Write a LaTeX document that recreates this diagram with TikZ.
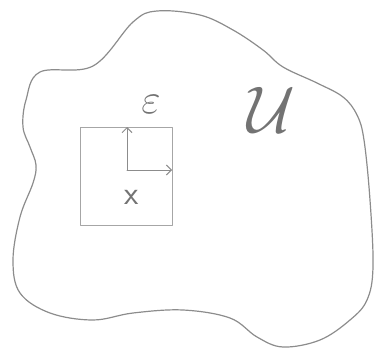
\documentclass[tikz,border=0pt]{standalone}
\usepackage{fix-cm}
\usepackage{fontspec}
\usetikzlibrary{arrows.meta}
\tikzset{
  pen/.style={draw=black!45, line width=1.2pt, line cap=round, line join=round},
  lbl/.style={text=black!55, inner sep=0pt},
  axis/.style={pen, line width=1pt, -{Straight Barb[length=5pt,width=10pt]}},
}
\begin{document}
\begin{tikzpicture}[x=1pt,y=-1pt]
\useasboundingbox (0,0) rectangle (375,353);
% blob
\draw[pen] plot[smooth cycle, tension=0.6] coordinates {
 (40,72) (93,66) (133,22) (157,11) (200,15) (233,30) (263,50) (283,67)
 (317,83) (343,97) (357,115) (364,140) (370,200) (373,267) (367,300)
 (350,320) (320,340) (283,347) (257,337) (230,318) (183,310) (133,313)
 (93,320) (50,313) (20,293) (13,260) (20,217) (33,183) (36,165) (30,147)
 (23,127) (26,100)};
% square
\node[pen, draw=black!35, line width=0.9pt, rectangle, minimum width=92pt, minimum height=98pt, inner sep=0pt] (sq) at (126,176) {};
\coordinate (o) at (127,170);
\coordinate (up) at (127,127);
\coordinate (rt) at (172,170);
\draw[axis] (o) -- (up);
\draw[axis] (o) -- (rt);
\node[lbl, font=\sffamily\fontsize{33}{33}\selectfont] (x) at (132,197) {x};
\node[lbl, font=\fontsize{42}{42}\selectfont] (eps) at (151,104) {$\varepsilon$};
\node[lbl, font=\fontsize{66}{66}\selectfont] (U) at (271,110) {$\mathcal{U}$};
\end{tikzpicture}
\end{document}
